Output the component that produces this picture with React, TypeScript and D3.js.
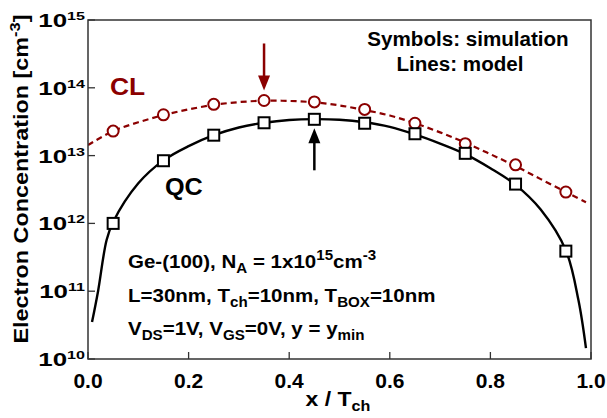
import React from "react";
import * as d3 from "d3";

const W = 607;
const H = 418;

// Simulation symbols
const simX = [0.05, 0.15, 0.25, 0.35, 0.45, 0.55, 0.65, 0.75, 0.85, 0.95];
const qcSim = [1.0e12, 8.4e12, 2.0e13, 3.05e13, 3.43e13, 3.0e13, 2.1e13, 1.08e13, 3.8e12, 3.9e11];
const clSim = [2.3e13, 4.0e13, 5.7e13, 6.5e13, 6.2e13, 4.8e13, 3.0e13, 1.5e13, 7.3e12, 2.9e12];

// Model lines
const qcModelX = [0.008, 0.02, 0.037, 0.05, 0.1, 0.15, 0.2, 0.25, 0.3, 0.35, 0.4, 0.45, 0.5, 0.55, 0.6, 0.65, 0.7, 0.75, 0.8, 0.85, 0.9, 0.95, 0.975, 0.99];
const qcModelY = [3.5e10, 1.0e11, 5.7e11, 1.05e12, 3.9e12, 8.5e12, 1.38e13, 2.0e13, 2.6e13, 3.05e13, 3.35e13, 3.45e13, 3.38e13, 3.1e13, 2.65e13, 2.05e13, 1.5e13, 1.05e13, 6.5e12, 3.7e12, 1.6e12, 4.0e11, 7.4e10, 1.45e10];
const clModelX = [0.0, 0.05, 0.1, 0.15, 0.2, 0.25, 0.3, 0.35, 0.4, 0.45, 0.5, 0.55, 0.6, 0.65, 0.7, 0.75, 0.8, 0.85, 0.9, 0.95, 0.99];
const clModelY = [1.43e13, 2.3e13, 3.1e13, 3.95e13, 4.8e13, 5.6e13, 6.15e13, 6.45e13, 6.4e13, 6.1e13, 5.5e13, 4.7e13, 3.9e13, 3.0e13, 2.2e13, 1.55e13, 1.05e13, 7.0e12, 4.5e12, 2.9e12, 2.05e12];

const xTicks = [0.0, 0.2, 0.4, 0.6, 0.8, 1.0];
const yTickExps = [10, 11, 12, 13, 14, 15];

const RED = "#8b0000";
const FONT = "'Liberation Sans', Arial, sans-serif";

function T(props: {
  x: number;
  y: number;
  sx?: number;
  size: number;
  anchor?: string;
  fill?: string;
  rotate?: number;
  children: React.ReactNode;
}) {
  const { x, y, sx = 1, size, anchor = "start", fill = "#000", rotate = 0, children } = props;
  return (
    <text
      transform={`translate(${x},${y}) rotate(${rotate}) scale(${sx},1)`}
      textAnchor={anchor}
      fontSize={size}
      fill={fill}
    >
      {children}
    </text>
  );
}

export default function App() {
  const left = 88, right = 591, top = 20, bottom = 359;
  const x = d3.scaleLinear().domain([0, 1]).range([left, right]);
  const y = d3.scaleLog().domain([1e10, 1e15]).range([bottom, top]);

  const line = d3
    .line<[number, number]>()
    .x((d) => x(d[0]))
    .y((d) => y(d[1]))
    .curve(d3.curveCatmullRom.alpha(0.5));

  const qcPath = line(qcModelX.map((v, i) => [v, qcModelY[i]]) as [number, number][]) || "";
  const clPath = line(clModelX.map((v, i) => [v, clModelY[i]]) as [number, number][]) || "";

  const redAx = x(0.35);
  const redTip = y(clSim[3]) - 10;
  const blkAx = x(0.45);
  const blkTip = y(qcSim[4]) + 9;

  const sub = 14;
  const annSx = 1.08;

  return (
    <svg width={W} height={H} style={{ position: "absolute", left: 0, top: 0, background: "#fff" }} fontFamily={FONT} fontWeight="bold">
      <rect x={0} y={0} width={W} height={H} fill="#fff" />
      <clipPath id="clip">
        <rect x={left} y={top} width={right - left} height={bottom - top} />
      </clipPath>
      <g clipPath="url(#clip)">
        <path d={clPath} fill="none" stroke={RED} strokeWidth={2.2} strokeDasharray="6,4" />
        <path d={qcPath} fill="none" stroke="#000" strokeWidth={2.4} />
      </g>
      {simX.map((v, i) => (
        <circle key={"c" + i} cx={x(v)} cy={y(clSim[i])} r={5.5} fill="#fff" stroke={RED} strokeWidth={2} />
      ))}
      {simX.map((v, i) => (
        <rect key={"s" + i} x={x(v) - 5.5} y={y(qcSim[i]) - 5.5} width={11} height={11} fill="#fff" stroke="#000" strokeWidth={2} />
      ))}
      <rect x={left} y={top} width={right - left} height={bottom - top} fill="none" stroke="#333" strokeWidth={1.5} />
      {xTicks.map((t) => (
        <g key={"xt" + t}>
          <line x1={x(t)} x2={x(t)} y1={bottom} y2={bottom - 7} stroke="#333" strokeWidth={1.3} />
          <T x={x(t)} y={bottom + 29} size={21} anchor="middle">{t.toFixed(1)}</T>
        </g>
      ))}
      {yTickExps.map((e) => (
        <g key={"yt" + e}>
          <line x1={left} x2={left + 7} y1={y(Math.pow(10, e))} y2={y(Math.pow(10, e))} stroke="#333" strokeWidth={1.3} />
          <T x={left - 3} y={y(Math.pow(10, e)) + 7} size={18.5} sx={1.4} anchor="end">
            10<tspan fontSize={11.5} dy={-7}>{e}</tspan>
          </T>
        </g>
      ))}
      <T x={338} y={406} size={20} sx={1.15} anchor="middle">
        x / T<tspan fontSize={sub} dy={5}>ch</tspan>
      </T>
      <T x={28} y={179} size={20} sx={1.17} anchor="middle" rotate={-90}>
        Electron Concentration [cm<tspan fontSize={sub} dy={-8}>-3</tspan><tspan dy={8}>]</tspan>
      </T>
      <line x1={redAx} x2={redAx} y1={redTip - 47} y2={redTip - 12} stroke={RED} strokeWidth={2.5} />
      <path d={`M${redAx - 6},${redTip - 15} L${redAx + 6},${redTip - 15} L${redAx},${redTip} Z`} fill={RED} />
      <line x1={blkAx} x2={blkAx} y1={blkTip + 12} y2={blkTip + 42} stroke="#000" strokeWidth={2.5} />
      <path d={`M${blkAx - 6},${blkTip + 15} L${blkAx + 6},${blkTip + 15} L${blkAx},${blkTip} Z`} fill="#000" />
      <T x={110} y={95} size={24} sx={1.1} fill={RED}>CL</T>
      <T x={165} y={195} size={24} sx={1.05}>QC</T>
      <T x={468} y={46} size={20} sx={1.03} anchor="middle">Symbols: simulation</T>
      <T x={460} y={71} size={20} sx={1.03} anchor="middle">Lines: model</T>
      <T x={128} y={268} size={19} sx={annSx}>
        Ge-(100), N<tspan fontSize={sub} dy={5}>A</tspan><tspan dy={-5}> = 1x10</tspan>
        <tspan fontSize={sub} dy={-8}>15</tspan><tspan dy={8}>cm</tspan><tspan fontSize={sub} dy={-8}>-3</tspan>
      </T>
      <T x={128} y={302} size={19} sx={annSx}>
        L=30nm, T<tspan fontSize={sub} dy={5}>ch</tspan><tspan dy={-5}>=10nm, T</tspan>
        <tspan fontSize={sub} dy={5}>BOX</tspan><tspan dy={-5}>=10nm</tspan>
      </T>
      <T x={128} y={335} size={19} sx={annSx}>
        V<tspan fontSize={sub} dy={5}>DS</tspan><tspan dy={-5}>=1V, V</tspan>
        <tspan fontSize={sub} dy={5}>GS</tspan><tspan dy={-5}>=0V, y = y</tspan>
        <tspan fontSize={sub} dy={5}>min</tspan>
      </T>
    </svg>
  );
}
